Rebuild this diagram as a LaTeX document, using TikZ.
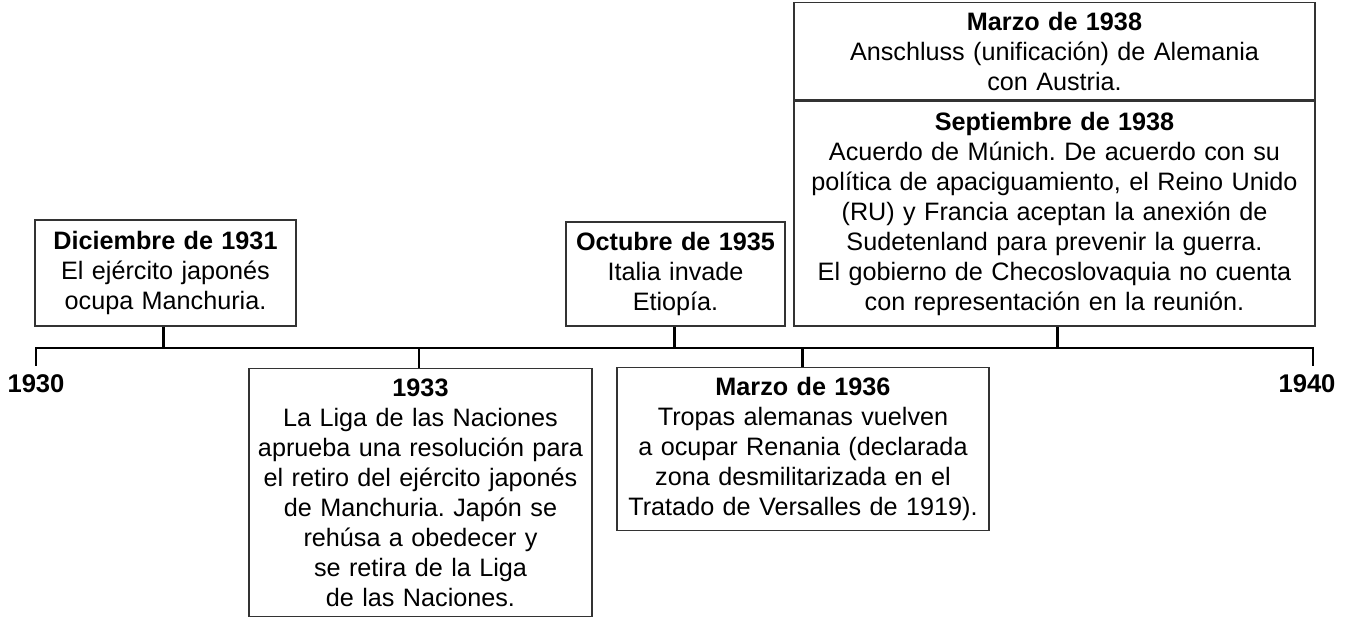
\documentclass[tikz,border=0pt]{standalone}
\usepackage{fontspec}
\setmainfont{Liberation Sans}
\usetikzlibrary{positioning}
\frenchspacing

\begin{document}
\begin{tikzpicture}[x=0.5pt, y=-0.5pt,
	eventbox/.style={draw=black!80, line width=0.75pt, inner sep=0pt, align=center, text width=#1, font=\fontsize{12.6}{15}\selectfont},
	axisline/.style={line width=1.3pt, color=black},
	yearlabel/.style={font=\fontsize{12.8}{15}\selectfont\bfseries}]
			%%%%% START %%%%%
			
			\useasboundingbox (0, 0) rectangle (1355, 619);
			
			\coordinate (t1930) at (36, 348);
			\coordinate (t1931) at (163.7, 348);
			\coordinate (t1933) at (419.1, 348);
			\coordinate (t1935) at (674.5, 348);
			\coordinate (t1936) at (802.2, 348);
			\coordinate (t1938) at (1057.6, 348);
			\coordinate (t1940) at (1313, 348);
			
			\draw[axisline] (t1930) ++(0, 18) -- (t1930) -- (t1940) -- ++(0, 18);
			
			\node[yearlabel] (y1930) at (36, 384) {1930};
			\node[yearlabel] (y1940) at (1307, 384) {1940};
			
			\node[eventbox=130.5pt, minimum height=53pt, anchor=south] (dic31) at (165.5, 327)
				{\textbf{Diciembre de 1931}\\El ejército japonés\\ocupa Manchuria.};
			
			\node[eventbox=171.5pt, minimum height=124pt, anchor=north] (liga33) at (420.5, 368)
				{\textbf{1933}\\La Liga de las Naciones\\aprueba una resolución para\\el retiro del ejército japonés\\de Manchuria. Japón se\\rehúsa a obedecer y\\se retira de la Liga\\de las Naciones.};
			
			\node[eventbox=109.5pt, minimum height=52pt, anchor=south] (oct35) at (675.5, 327)
				{\textbf{Octubre de 1935}\\Italia invade\\Etiopía.};
			
			\node[eventbox=186pt, minimum height=81.5pt, anchor=north] (mar36) at (803, 367)
				{\textbf{Marzo de 1936}\\Tropas alemanas vuelven\\a ocupar Renania (declarada\\zona desmilitarizada en el\\Tratado de Versalles de 1919).};
			
			\node[eventbox=260.5pt, minimum height=112.5pt, anchor=south] (sep38) at (1054.5, 327)
				{\textbf{Septiembre de 1938}\\Acuerdo de Múnich. De acuerdo con su\\política de apaciguamiento, el Reino Unido\\(RU) y Francia aceptan la anexión de\\Sudetenland para prevenir la guerra.\\El gobierno de Checoslovaquia no cuenta\\con representación en la reunión.};
			\node[eventbox=260.5pt, minimum height=48.5pt, above=0pt of sep38] (mar38)
				{\textbf{Marzo de 1938}\\Anschluss (unificación) de Alemania\\con Austria.};
			
			\draw[axisline] (t1931) -- (t1931 |- dic31.south);
			\draw[axisline] (t1933) -- (t1933 |- liga33.north);
			\draw[axisline] (t1935) -- (t1935 |- oct35.south);
			\draw[axisline] (t1936) -- (t1936 |- mar36.north);
			\draw[axisline] (t1938) -- (t1938 |- sep38.south);
			
			%%%%% END %%%%%
\end{tikzpicture}
\end{document}
